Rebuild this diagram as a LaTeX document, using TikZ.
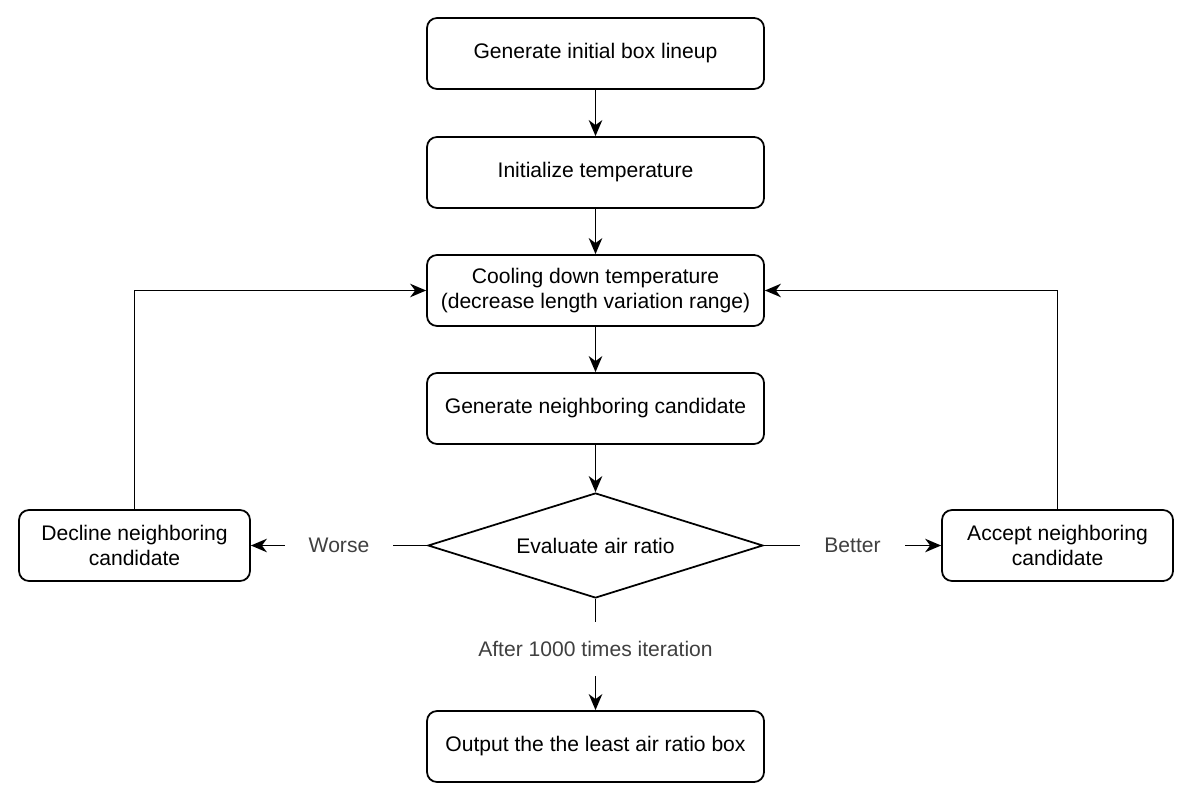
\documentclass[tikz,border=0pt]{standalone}
\usepackage{fontspec}
\setmainfont{Liberation Sans}
\usetikzlibrary{arrows.meta,shapes.geometric,positioning}

\begin{document}
\begin{tikzpicture}[
  >={Stealth[length=3.2mm,width=2.7mm,inset=1mm]},
  every path/.style={line width=1pt},
  font=\fontsize{12}{14.2}\selectfont,
  stepbox/.style={draw,rounded corners=0.2cm,minimum width=6.74cm,minimum height=1.42cm,align=center,inner sep=0pt},
  sidebox/.style={stepbox,minimum width=4.62cm},
  decide/.style={draw,diamond,aspect=3.19,minimum width=6.7cm,minimum height=2.1cm,inner sep=0pt},
  lbl/.style={fill=white,text=black!75,inner xsep=0.48cm,inner ysep=0pt}
]

\useasboundingbox (0,0) rectangle (23.88,-16.06);

\node[stepbox] (gen) at (11.91,-1.07) {Generate initial box lineup};
\node[stepbox] (init) at (11.91,-3.45) {Initialize temperature};
\node[stepbox] (cool) at (11.91,-5.81) {Cooling down temperature\\(decrease length variation range)};
\node[stepbox] (neigh) at (11.91,-8.17) {Generate neighboring candidate};
\node[decide] (eval) at (11.91,-10.91) {Evaluate air ratio};
\node[sidebox] (decline) at (2.69,-10.91) {Decline neighboring\\candidate};
\node[sidebox] (accept) at (21.15,-10.91) {Accept neighboring\\candidate};
\node[stepbox] (output) at (11.91,-14.93) {Output the the least air ratio box};

\draw[->] (gen) -- (init);
\draw[->] (init) -- (cool);
\draw[->] (cool) -- (neigh);
\draw[->] (neigh) -- (eval);

\draw[->] (eval) -- node[lbl] {Worse} (decline);
\draw[->] (eval) -- node[lbl] {Better} (accept);
\draw[->] (eval) -- node[lbl,pos=0.45,inner xsep=0pt,inner ysep=0.38cm] {After 1000 times iteration} (output);

\draw[->] (decline) |- (cool);
\draw[->] (accept) |- (cool);

\end{tikzpicture}
\end{document}
